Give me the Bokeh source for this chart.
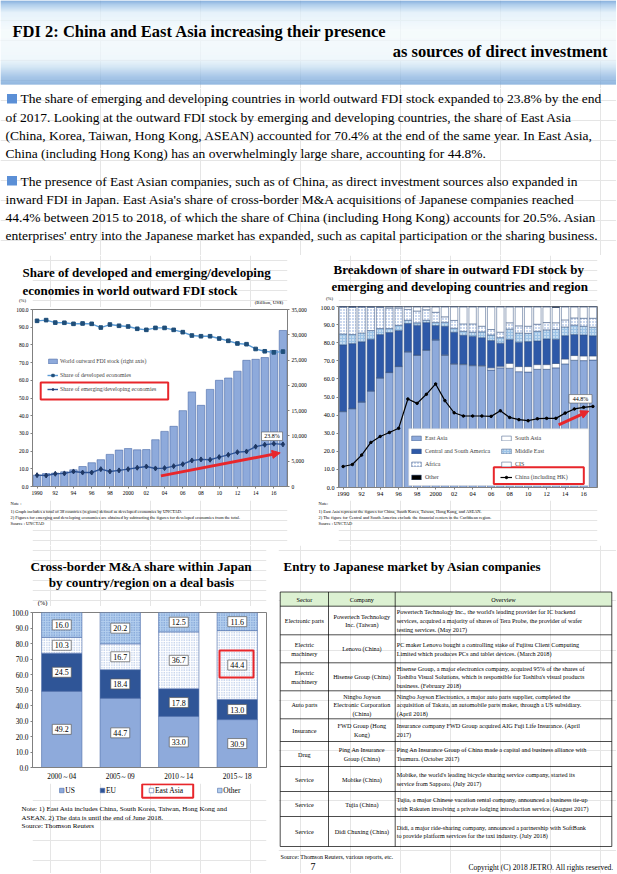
import numpy as np
from bokeh.plotting import figure
from bokeh.models import (Range1d, LinearAxis, FixedTicker, NumeralTickFormatter, Legend,
                          LegendItem, BoxAnnotation, Arrow, NormalHead, ColumnDataSource)
from bokeh.layouts import column, row
from bokeh.core.properties import value
from bokeh.embed import file_html
from bokeh.resources import INLINE

SERIF = "Liberation Serif"

# ---------------- data ----------------
years = list(range(1990, 2018))
year_ticks = [1990, 1992, 1994, 1996, 1998, 2000, 2002, 2004, 2006, 2008, 2010, 2012, 2014, 2016]
year_tick_labels = ["1990", "92", "94", "96", "98", "2000", "02", "04", "06", "08", "10", "12", "14", "16"]

# Chart 1: world outward FDI stock (billion US$) and shares (%)
fdi_stock = [2250, 2550, 2650, 2900, 3300, 3950, 4700, 5300, 6350, 7200, 7500, 7250, 7300, 9250,
             10900, 11900, 15000, 18700, 16050, 19200, 21000, 21450, 22800, 24950, 25150, 25500,
             26900, 30850]
dev_share = [93.6, 94.0, 92.6, 92.5, 91.9, 92.1, 91.9, 89.8, 91.5, 90.8, 90.4, 89.1, 88.5, 89.6,
             89.6, 88.5, 87.2, 85.3, 84.9, 84.9, 83.6, 82.3, 80.8, 80.4, 77.7, 76.4, 75.8, 76.2]
emg_share = [6.4, 6.2, 7.2, 7.4, 8.5, 7.9, 7.9, 9.8, 8.5, 9.1, 9.8, 10.6, 11.3, 10.2, 10.4, 11.5,
             12.6, 14.7, 15.3, 15.1, 16.6, 17.9, 19.4, 19.8, 22.5, 23.6, 24.2, 23.8]

# Chart 2: breakdown of emerging/developing outward FDI stock (%)
reg_east_asia = [41.9, 43.5, 47.2, 53.3, 60.5, 63.5, 66.8, 74.9, 73.0, 75.8, 81.5, 73.0, 68.1, 67.9,
                 67.3, 67.0, 64.9, 66.1, 65.9, 64.0, 63.8, 65.3, 65.3, 66.1, 68.3, 70.3, 70.1, 70.4]
reg_south_asia = [0.2, 0.2, 0.2, 0.2, 0.2, 0.2, 0.2, 0.2, 0.2, 0.2, 0.2, 0.3, 0.3, 0.3, 0.3, 0.4,
                  1.2, 0.9, 2.7, 2.8, 3.0, 2.6, 2.6, 2.4, 2.7, 2.6, 2.6, 2.3]
reg_cs_america = [36.7, 35.8, 33.1, 28.4, 23.8, 21.9, 19.7, 15.5, 16.5, 15.1, 7.8, 15.8, 17.4, 15.9,
                  16.0, 15.4, 15.1, 12.7, 13.1, 13.5, 13.8, 13.1, 14.2, 13.4, 12.9, 11.6, 11.6, 11.1]
reg_middle_east = [6.0, 5.0, 4.9, 4.8, 3.3, 2.2, 2.9, 1.8, 1.3, 1.3, 1.7, 2.2, 2.2, 2.2, 2.2, 3.2,
                   3.1, 3.1, 5.8, 5.1, 4.6, 5.3, 5.0, 5.4, 4.8, 5.2, 4.8, 4.8]
reg_africa = [15.0, 15.2, 14.4, 12.8, 11.6, 11.3, 9.5, 6.0, 6.5, 5.8, 5.6, 3.0, 4.3, 4.1, 4.6, 3.1,
              3.0, 3.0, 3.5, 3.9, 3.9, 3.9, 4.0, 3.7, 3.9, 4.0, 4.4, 4.9]
reg_cis = [0.0, 0.0, 0.0, 0.3, 0.4, 0.7, 0.7, 1.4, 2.3, 1.6, 3.0, 5.5, 7.5, 9.4, 9.4, 10.7, 12.5,
           14.0, 8.8, 10.5, 10.7, 9.6, 8.7, 8.5, 7.2, 6.1, 6.3, 6.3]
reg_other = [0.2, 0.3, 0.2, 0.2, 0.2, 0.2, 0.2, 0.2, 0.2, 0.2, 0.2, 0.2, 0.2, 0.2, 0.2, 0.2, 0.2,
             0.2, 0.2, 0.2, 0.2, 0.2, 0.2, 0.5, 0.2, 0.2, 0.2, 0.2]
china_hk = [11.6, 12.7, 17.9, 24.9, 28.2, 30.4, 32.7, 48.9, 46.5, 51.5, 57.2, 48.0, 41.3, 39.5,
            39.5, 39.5, 39.3, 42.4, 38.7, 37.5, 36.9, 38.0, 38.2, 38.2, 41.1, 43.4, 44.3, 44.8]

# Chart 3: cross-border M&A share within Japan (%)
periods = ["2000～04", "2005～09", "2010～14", "2015～18"]
ma_us = [49.2, 44.7, 33.0, 30.9]
ma_eu = [24.5, 18.4, 17.8, 13.0]
ma_east_asia = [10.3, 16.7, 36.7, 44.4]
ma_other = [16.0, 20.2, 12.5, 11.6]

# Table
tbl_header = ["Sector", "Company", "Overview"]
tbl_sector = [["Electronic parts"], ["Electric", "machinery"], ["Electric", "machinery"],
              ["Auto parts"], ["Insurance"], ["Drug"], ["Service"], ["Service"], ["Service"]]
tbl_company = [["Powertech Technology", "Inc. (Taiwan)"], ["Lenovo (China)"],
               ["Hisense Group (China)"], ["Ningbo Joyson", "Electronic Corporation", "(China)"],
               ["FWD Group (Hong", "Kong)"], ["Ping An Insurance", "Group (China)"],
               ["Mobike (China)"], ["Tujia (China)"], ["Didi Chuxing (China)"]]
tbl_overview = [
    ["Powertech Technology Inc., the world's leading provider for IC backend",
     "services, acquired a majority of shares of Tera Probe, the provider of wafer",
     "testing services. (May 2017)"],
    ["PC maker Lenovo bought a controlling stake of Fujitsu Client Computing",
     "Limited which produces PCs and tablet devices. (March 2018)"],
    ["Hisense Group, a major electronics company, acquired 95% of the shares of",
     "Toshiba Visual Solutions, which is responsible for Toshiba's visual products",
     "business. (February 2018)"],
    ["Ningbo Joyson Electronics, a major auto parts supplier, completed the",
     "acquisition of Takata, an automobile parts maker, through a US subsidiary.",
     "(April 2018)"],
    ["Insurance company FWD Group acquired AIG Fuji Life Insurance. (April",
     "2017)"],
    ["Ping An Insurance Group of China made a capital and business alliance with",
     "Tsumura. (October 2017)"],
    ["Mobike, the world's leading bicycle sharing service company, started its",
     "service from Sapporo. (July 2017)"],
    ["Tujia, a major Chinese vacation rental company, announced a business tie-up",
     "with Rakuten involving a private lodging introduction service. (August 2017)"],
    ["Didi, a major ride-sharing company, announced a partnership with SoftBank",
     "to provide platform services for the taxi industry. (July 2018)"],
]

para1 = ["The share of emerging and developing countries in world outward FDI stock expanded to 23.8% by the end",
         "of 2017. Looking at the outward FDI stock by emerging and developing countries, the share of East Asia",
         "(China, Korea, Taiwan, Hong Kong, ASEAN) accounted for 70.4% at the end of the same year. In East Asia,",
         "China (including Hong Kong) has an overwhelmingly large share, accounting for 44.8%."]
para2 = ["The presence of East Asian companies, such as of China, as direct investment sources also expanded in",
         "inward FDI in Japan. East Asia's share of cross-border M&A acquisitions of Japanese companies reached",
         "44.4% between 2015 to 2018, of which the share of China (including Hong Kong) accounts for 20.5%. Asian",
         "enterprises' entry into the Japanese market has expanded, such as capital participation or the sharing business."]

RED = "#e8262b"


# ---------------- helpers ----------------
def canvas(w, h, x0, x1, y0, y1, bl=0, br=0):
    p = figure(width=w, height=h, x_range=Range1d(x0, x1), y_range=Range1d(y1, y0),
               output_backend="svg", toolbar_location=None, min_border=0,
               min_border_left=bl, min_border_right=br, min_border_top=0, min_border_bottom=0,
               x_axis_location=None, y_axis_location=None)
    p.outline_line_color = None
    p.background_fill_color = "white"
    return p


def put(p, x, y, s, size, bold=False, align="left", color="black", font=SERIF):
    p.text(x=[x], y=[y], text=[s], text_font=value(font), text_font_size=f"{size}px",
           text_font_style="bold" if bold else "normal", text_align=align,
           text_baseline="middle", text_color=color, level="overlay")


def style_axis(ax, size):
    ax.major_label_text_font = SERIF
    ax.major_label_text_font_size = f"{size}px"
    ax.major_label_text_color = "black"
    ax.axis_line_color = "#808080"
    ax.major_tick_line_color = "#808080"
    ax.major_tick_out = 2
    ax.major_tick_in = 0
    ax.minor_tick_line_color = None
    ax.major_label_standoff = 2


# ---------------- header ----------------
hdr = canvas(616, 88, 0, 616, 0, 88)
stops = [(0, (98, 150, 210)), (4, (150, 190, 230)), (12, (222, 238, 249)), (30, (243, 250, 253)),
         (58, (236, 246, 251)), (66, (200, 224, 242)), (76, (140, 181, 225)), (84, (112, 160, 214))]
sy = [s[0] for s in stops]
ys = np.arange(0, 84, 0.5)
cols = []
for yy in ys:
    c = [int(np.interp(yy, sy, [s[1][k] for s in stops])) for k in range(3)]
    cols.append("#%02x%02x%02x" % tuple(c))
hdr.quad(left=0, right=616, top=ys, bottom=ys + 0.55, fill_color=cols, line_color=None)
put(hdr, 12, 31, "FDI 2: China and East Asia increasing their presence", 16.5, bold=True)
put(hdr, 607, 51, "as sources of direct investment", 16.5, bold=True, align="right")

# ---------------- paragraphs ----------------
txt = canvas(616, 167, 0, 616, 88, 255)
txt.quad(left=[6.5, 6.5], right=[16.5, 16.5], top=[93.5, 175.5], bottom=[103, 185],
         fill_color="#5b8fd6", line_color=None)
py1 = [98, 116.5, 134.5, 152.5]
py2 = [180.5, 198.5, 216.5, 234.5]
for i, (s, yy) in enumerate(zip(para1, py1)):
    put(txt, 20 if i == 0 else 5, yy, s, 13.5)
for i, (s, yy) in enumerate(zip(para2, py2)):
    put(txt, 20 if i == 0 else 5, yy, s, 13.5)

# ---------------- chart 1 ----------------
B1L, B1R = 32, 25
t1 = canvas(312, 52, 32, 287, 255, 307, B1L, B1R)
put(t1, 22, 272, "Share of developed and emerging/developing", 13, bold=True)
put(t1, 22, 289.5, "economies in world outward FDI stock", 13, bold=True)
put(t1, 22, 300, "(%)", 4.8, align="center")
put(t1, 284, 302, "(Billion,  US$)", 5, align="right")

p1 = figure(width=312, height=193, x_range=Range1d(1989.5, 2017.5), y_range=Range1d(0, 100),
            output_backend="svg", toolbar_location=None,
            min_border_left=B1L, min_border_right=B1R, min_border_top=2, min_border_bottom=14)
p1.extra_y_ranges = {"stock": Range1d(0, 35000)}
ax_r = LinearAxis(y_range_name="stock")
p1.add_layout(ax_r, "right")
p1.grid.visible = False
p1.outline_line_color = "#808080"
b1 = p1.vbar(x=years, top=fdi_stock, width=0.82, y_range_name="stock",
             fill_color="#8eaadb", line_color="#4a69a8", line_width=0.6)
l_dev = p1.line(years, dev_share, line_color="#5b9bd5", line_width=1.4)
s_dev = p1.scatter(years, dev_share, marker="square", size=3.6, fill_color="#1f4e79",
                   line_color="#1f4e79")
l_emg = p1.line(years, emg_share, line_color="#2f5597", line_width=1.4)
s_emg = p1.scatter(years, emg_share, marker="diamond", size=5, fill_color="#1f3864",
                   line_color="#1f3864")
for ax in [p1.xaxis[0], p1.left[0], ax_r]:
    style_axis(ax, 5.5)
p1.xaxis.ticker = FixedTicker(ticks=year_ticks)
p1.xaxis.major_label_overrides = dict(zip(year_ticks, year_tick_labels))
p1.left[0].ticker = FixedTicker(ticks=list(range(0, 101, 10)))
p1.left[0].formatter = NumeralTickFormatter(format="0.0")
ax_r.ticker = FixedTicker(ticks=list(range(0, 35001, 5000)))
ax_r.formatter = NumeralTickFormatter(format="0,0")
leg1 = Legend(items=[LegendItem(label="World outward FDI stock (right axis)", renderers=[b1]),
                     LegendItem(label="Share of developed economies", renderers=[l_dev, s_dev]),
                     LegendItem(label="Share of emerging/developing economies",
                                renderers=[l_emg, s_emg])],
              location=(15, 94), background_fill_alpha=0, border_line_color=None,
              label_text_font=SERIF, label_text_font_size="5.8px", glyph_width=11,
              glyph_height=6, label_height=6, spacing=8, padding=2, label_standoff=2, margin=0)
p1.add_layout(leg1)
p1.add_layout(BoxAnnotation(left=1990.4, right=2004.4, bottom=49.2, top=58.8, fill_alpha=0,
                            line_color=RED, line_alpha=1, line_width=2, level="overlay"))
p1.add_layout(Arrow(end=NormalHead(size=8, fill_color=RED, line_color=RED),
                    x_start=2003.6, y_start=6.0, x_end=2016.7, y_end=19.0,
                    line_color=RED, line_width=3))
p1.rect(x=[2015.8], y=[28.4], width=21, height=8.5, width_units="screen", height_units="screen",
        fill_color="white", line_color="#595959", line_width=0.6)
p1.text(x=[2015.8], y=[28.4], text=["23.8%"], text_font=value(SERIF), text_font_size="6px",
        text_align="center", text_baseline="middle")

n1 = canvas(312, 45, 32, 287, 500, 545, B1L, B1R)
notes1 = ["Note :",
          "1) Graph includes a total of 38 countries (regions) defined as developed economies by UNCTAD.",
          "2) Figures for emerging and developing economies are obtained by subtracting the figures for developed economies from the total.",
          "Source : UNCTAD"]
for s, yy in zip(notes1, [503, 510.5, 516.5, 522.5]):
    put(n1, 10, yy, s, 4.4)

# ---------------- chart 2 ----------------
B2L, B2R = 26, 19
t2 = canvas(304, 50, 338, 597, 255, 305, B2L, B2R)
put(t2, 333, 269, "Breakdown of share in outward FDI stock by", 13, bold=True)
put(t2, 331, 286, "emerging and developing countries and region", 13, bold=True)
put(t2, 329, 298, "(%)", 4.8, align="center")

p2 = figure(width=304, height=195, x_range=Range1d(1989.5, 2017.5), y_range=Range1d(0, 100),
            output_backend="svg", toolbar_location=None,
            min_border_left=B2L, min_border_right=B2R, min_border_top=1, min_border_bottom=13)
p2.grid.visible = False
p2.outline_line_color = "#808080"
src2 = ColumnDataSource(dict(year=years, ea=reg_east_asia, sa=reg_south_asia, csa=reg_cs_america,
                             me=reg_middle_east, af=reg_africa, cis=reg_cis, oth=reg_other))
r2 = p2.vbar_stack(["ea", "sa", "csa", "me", "af", "cis", "oth"], x="year", width=0.8, source=src2,
                   fill_color=["#8eaadb", "white", "#2e59a8", "#9dc3e6", "white", "white", "black"],
                   line_color="#34507f", line_width=0.5,
                   hatch_pattern=[None, None, None, "dot", "dot", None, None],
                   hatch_color=["white", "white", "white", "white", "#7f9fd6", "white", "white"],
                   hatch_scale=3, hatch_weight=1)
l_cn = p2.line(years, china_hk, line_color="black", line_width=1.2)
s_cn = p2.scatter(years, china_hk, marker="circle", size=2.5, fill_color="black", line_color="black")
for ax in [p2.xaxis[0], p2.yaxis[0]]:
    style_axis(ax, 6.2)
p2.xaxis.ticker = FixedTicker(ticks=year_ticks)
p2.xaxis.major_label_overrides = dict(zip(year_ticks, year_tick_labels))
p2.yaxis.ticker = FixedTicker(ticks=list(range(0, 101, 10)))
p2.yaxis.formatter = NumeralTickFormatter(format="0.0")
# white panel behind the legend
p2.add_layout(BoxAnnotation(left=1997.1, right=2016.55, bottom=1.1, top=32.4, fill_color="white",
                            fill_alpha=1, line_color="#d9d9d9", line_alpha=1, line_width=0.6))
names2 = ["East Asia", "South Asia", "Central and South America", "Middle East", "Africa", "CIS", "Other"]
it = {n: LegendItem(label=n, renderers=[r]) for n, r in zip(names2, r2)}
it["China"] = LegendItem(label="China (including HK)", renderers=[l_cn, s_cn])
leg2 = Legend(items=[it["East Asia"], it["Central and South America"], it["Africa"], it["Other"],
                     it["South Asia"], it["Middle East"], it["CIS"], it["China"]],
              ncols=2, location=(72, 7), background_fill_alpha=0,
              border_line_color=None, label_text_font=SERIF, label_text_font_size="6px",
              glyph_width=12, glyph_height=6, label_height=6, spacing=7, padding=5,
              label_standoff=3, label_width=68, margin=0)
p2.add_layout(leg2)
p2.add_layout(BoxAnnotation(left=2006.29, right=2016.02, bottom=2.0, top=11.2, fill_alpha=0,
                            line_color=RED, line_alpha=1, line_width=2, level="overlay"))
p2.add_layout(Arrow(end=NormalHead(size=8, fill_color=RED, line_color=RED),
                    x_start=2013.3, y_start=34.6, x_end=2016.56, y_end=42.2,
                    line_color=RED, line_width=3))
p2.rect(x=[2015.66], y=[49.0], width=23, height=8.5, width_units="screen", height_units="screen",
        fill_color="white", line_color="#595959", line_width=0.6)
p2.text(x=[2015.66], y=[49.0], text=["44.8%"], text_font=value(SERIF), text_font_size="6px",
        text_align="center", text_baseline="middle")

n2 = canvas(304, 45, 338, 597, 500, 545, B2L, B2R)
notes2 = ["Note:",
          "1) East Asia represent the figures for China, South Korea, Taiwan, Hong Kong, and ASEAN.",
          "2) The figure for Central and South America exclude the financial centers in the Caribbean region.",
          "Source : UNCTAD"]
for s, yy in zip(notes2, [503, 510.5, 516.5, 522.5]):
    put(n2, 318, yy, s, 4.4)

# ---------------- chart 3 ----------------
B3L, B3R = 32, 12
t3 = canvas(278, 61, 32, 266, 545, 606, B3L, B3R)
put(t3, 141, 566, "Cross-border M&A share within Japan", 13.2, bold=True, align="center")
put(t3, 141, 582, "by country/region on a deal basis", 13.2, bold=True, align="center")
put(t3, 42, 602, "(%)", 6.5, align="center")

xs3 = list(range(len(periods)))
p3 = figure(width=278, height=177, x_range=Range1d(-0.5, 3.5), y_range=Range1d(0, 100),
            output_backend="svg", toolbar_location=None,
            min_border_left=B3L, min_border_right=B3R, min_border_top=6, min_border_bottom=16)
p3.grid.visible = False
p3.outline_line_color = "#808080"
src3 = ColumnDataSource(dict(x=xs3, us=ma_us, eu=ma_eu, ea=ma_east_asia, ot=ma_other))
r3 = p3.vbar_stack(["us", "eu", "ea", "ot"], x="x", width=0.69, source=src3,
                   fill_color=["#8eaadb", "#2f5597", "white", "#b4cfee"],
                   line_color="#4a69a8", line_width=0.6,
                   hatch_pattern=[None, None, "dot", "dot"],
                   hatch_color=["white", "white", "#8eaadb", "#5b86c8"],
                   hatch_scale=2.5, hatch_weight=0.9)
stack3 = np.array([ma_us, ma_eu, ma_east_asia, ma_other])
bottoms3 = np.vstack([np.zeros(len(periods)), np.cumsum(stack3, axis=0)[:-1]])
mids3 = bottoms3 + stack3 / 2
lx, ly, lt = [], [], []
for k in range(4):
    for j in range(len(periods)):
        lx.append(xs3[j])
        ly.append(float(mids3[k, j]))
        lt.append(f"{stack3[k, j]:.1f}")
p3.rect(x=lx, y=ly, width=19, height=10, width_units="screen", height_units="screen",
        fill_color="white", line_color="#595959", line_width=0.7)
p3.text(x=lx, y=ly, text=lt, text_font=value(SERIF), text_font_size="8px",
        text_align="center", text_baseline="middle")
for ax in [p3.xaxis[0], p3.yaxis[0]]:
    style_axis(ax, 7.3)
p3.xaxis.ticker = FixedTicker(ticks=xs3)
p3.xaxis.major_label_overrides = dict(zip(xs3, periods))
p3.xaxis.major_tick_line_color = None
p3.yaxis.ticker = FixedTicker(ticks=list(range(0, 101, 10)))
p3.yaxis.formatter = NumeralTickFormatter(format="0.0")
p3.add_layout(BoxAnnotation(left=2.697, right=3.278, bottom=58.1, top=75.5, fill_alpha=0,
                            line_color=RED, line_alpha=1, line_width=2, level="overlay"))

n3 = canvas(278, 90, 32, 266, 783, 873, B3L, B3R)
leg3_names = ["US", "EU", "East Asia", "Other"]
leg3_x = [61.3, 102, 151, 219.3]
leg3_fill = ["#8eaadb", "#2f5597", "white", "#b4cfee"]
n3.rect(x=leg3_x, y=[790] * 4, width=4.5, height=4.5, fill_color=leg3_fill, line_color="#4a69a8",
        line_width=0.6)
for nm, xx in zip(leg3_names, leg3_x):
    put(n3, xx + 3.5, 790, nm, 7.5)
n3.quad(left=[141.7], right=[192.7], top=[783.8], bottom=[797.3], fill_alpha=0,
        line_color=RED, line_width=2)
notes3 = ["Note: 1) East Asia includes China, South Korea, Taiwan, Hong Kong and",
          "ASEAN. 2) The data is until the end of June 2018.",
          "Source: Thomson Reuters"]
for s, yy in zip(notes3, [808.3, 817, 825.3]):
    put(n3, 21, yy, s, 7)

# ---------------- table ----------------
tb = canvas(338, 328, 278, 616, 545, 873)
put(tb, 283, 566, "Entry to Japanese market by Asian companies", 13, bold=True)
col_x = [279.7, 328, 394.7, 611.3]
row_y = [591.5, 605.7, 634.3, 662.3, 690.3, 718.3, 741, 766, 791, 816, 846]
tb.quad(left=[col_x[0]], right=[col_x[-1]], top=[row_y[0]], bottom=[row_y[1]],
        fill_color="#dcf1d2", line_color=None)
tb.segment(x0=[col_x[0]] * len(row_y), x1=[col_x[-1]] * len(row_y), y0=row_y, y1=row_y,
           line_color="black", line_width=0.7)
tb.segment(x0=col_x, x1=col_x, y0=[row_y[0]] * 4, y1=[row_y[-1]] * 4,
           line_color="black", line_width=0.7)
hc = (row_y[0] + row_y[1]) / 2
put(tb, (col_x[0] + col_x[1]) / 2, hc, tbl_header[0], 6.2, align="center")
put(tb, (col_x[1] + col_x[2]) / 2, hc, tbl_header[1], 6.2, align="center")
put(tb, (col_x[2] + col_x[3]) / 2, hc, tbl_header[2], 6.2, align="center")
LH = 8.7
for i in range(len(tbl_sector)):
    yc = (row_y[i + 1] + row_y[i + 2]) / 2
    for cell, xx, al in [(tbl_sector[i], (col_x[0] + col_x[1]) / 2, "center"),
                         (tbl_company[i], (col_x[1] + col_x[2]) / 2, "center"),
                         (tbl_overview[i], col_x[2] + 1.5, "left")]:
        n = len(cell)
        for k, s in enumerate(cell):
            put(tb, xx, yc + (k - (n - 1) / 2) * LH, s, 6.2, align=al)
put(tb, 280, 856, "Source: Thomson Reuters, various reports, etc.", 6)
put(tb, 310, 866, "7", 10)
put(tb, 613, 867, "Copyright (C) 2018 JETRO. All rights reserved.", 7.5, align="right")

layout = column(hdr, txt,
                row(column(t1, p1, n1), column(t2, p2, n2)),
                row(column(t3, p3, n3), tb))

open("out.html", "w").write(file_html(layout, INLINE))
